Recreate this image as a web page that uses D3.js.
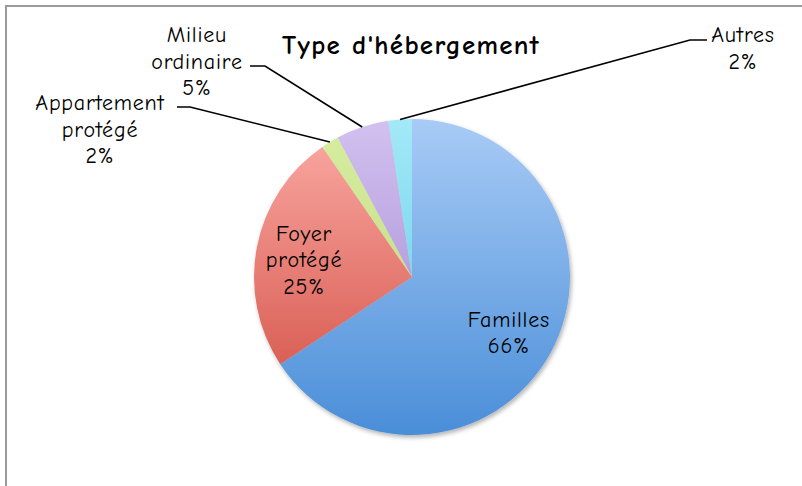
<!DOCTYPE html>
<html>
<head>
<meta charset="utf-8">
<script src="https://cdn.jsdelivr.net/npm/d3@7"></script>
<style>
  html, body { margin: 0; padding: 0; background: #fff; }
  svg { display: block; }
  text { font-family: "Comic Sans MS", "Comic Neue", "DejaVu Sans", sans-serif; fill: #000; }
</style>
</head>
<body>
<div id="chart"></div>
<script>
// data
const categories = ["Familles", "Foyer protégé", "Appartement protégé", "Milieu ordinaire", "Autres"];
const values = [65.7, 24.7, 1.8, 5.4, 2.4];
const labelLines = [["Familles"], ["Foyer", "protégé"], ["Appartement", "protégé"], ["Milieu", "ordinaire"], ["Autres"]];
const colorsTop = ["#a8cbf6", "#fbaca6", "#d8eda2", "#d2c1f0", "#a4e9f8"];
const colorsBottom = ["#4a8ed8", "#d04a3f", "#b6d676", "#9d7eca", "#52c6e3"];
const title = "Type d'hébergement";

const width = 802, height = 486;
const cx = 412, cy = 277, R = 158;

// where excel put the outside labels (text centre x, first baseline y, elbow)
const outside = {
    2: { x: 100, y: 110, elbowX: 190, elbowY: 107, endX: 177 },
    3: { x: 197, y: 42, elbowX: 265, elbowY: 66, endX: 250 },
    4: { x: 743, y: 42, elbowX: 690, elbowY: 40, endX: 707 }
};

const svg = d3.select("#chart").append("svg")
    .attr("width", width)
    .attr("height", height);

const defs = svg.append("defs");

const shadow = defs.append("filter")
    .attr("id", "shadow")
    .attr("x", "-10%").attr("y", "-10%")
    .attr("width", "130%").attr("height", "130%");
shadow.append("feDropShadow")
    .attr("dx", 1.5).attr("dy", 2.5)
    .attr("stdDeviation", 2)
    .attr("flood-color", "#000")
    .attr("flood-opacity", 0.3);

// gradients live in the pie group's coords (centre at 0,0)
categories.forEach((c, i) => {
    const lg = defs.append("linearGradient")
        .attr("id", "grad" + i)
        .attr("gradientUnits", "userSpaceOnUse")
        .attr("x1", 0).attr("x2", 0)
        .attr("y1", -R).attr("y2", R);
    lg.append("stop").attr("offset", "0%").attr("stop-color", colorsTop[i]);
    lg.append("stop").attr("offset", "100%").attr("stop-color", colorsBottom[i]);
});

// frame
svg.append("path")
    .attr("d", `M6,${height} L6,6 L${width},6`)
    .attr("fill", "none")
    .attr("stroke", "#9a9a9a")
    .attr("stroke-width", 2);

svg.append("text")
    .attr("x", 411)
    .attr("y", 54)
    .attr("text-anchor", "middle")
    .style("font-size", "27px")
    .style("font-weight", "bold")
    .style("letter-spacing", "1.3px")
    .text(title);

const total = d3.sum(values);
const pie = d3.pie().sort(null).value(d => d)(values);
const arc = d3.arc().innerRadius(0).outerRadius(R);
const inLabelArc = d3.arc().innerRadius(110).outerRadius(110);
const edgeArc = d3.arc().innerRadius(R).outerRadius(R);

const g = svg.append("g").attr("transform", `translate(${cx},${cy})`);

g.append("g")
    .attr("filter", "url(#shadow)")
    .selectAll("path")
    .data(pie)
    .enter()
    .append("path")
    .attr("d", arc)
    .attr("fill", (d, i) => `url(#grad${i})`);

const pct = v => Math.round(v / total * 100) + "%";
const lineH = 26.5;

pie.forEach((d, i) => {
    const lines = labelLines[i].concat([pct(values[i])]);
    let tx, ty;
    if (outside[i]) {
        const o = outside[i];
        const p = edgeArc.centroid(d);
        svg.append("polyline")
            .attr("points", [[p[0] + cx, p[1] + cy], [o.elbowX, o.elbowY], [o.endX, o.elbowY]].map(q => q.join(",")).join(" "))
            .attr("fill", "none")
            .attr("stroke", "#000")
            .attr("stroke-width", 1.6);
        tx = o.x;
        ty = o.y;
    } else {
        const c = inLabelArc.centroid(d);
        tx = c[0] + cx;
        ty = c[1] + cy - (lines.length - 1) * lineH / 2 + 11;
    }
    const t = svg.append("text")
        .attr("text-anchor", "middle")
        .style("font-size", "22px")
        .style("letter-spacing", "0.8px");
    lines.forEach((s, k) => {
        t.append("tspan")
            .attr("x", tx)
            .attr("y", ty + k * lineH)
            .text(s);
    });
});
</script>
</body>
</html>
